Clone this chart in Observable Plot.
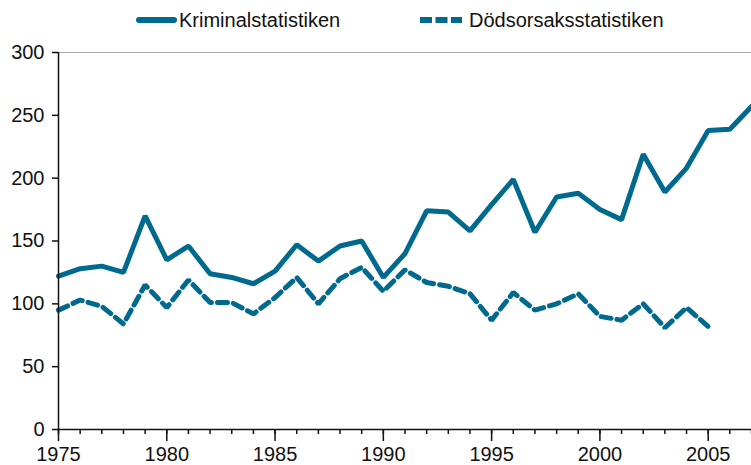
<!DOCTYPE html>
<html>
<head>
<meta charset="utf-8">
<script src="https://cdn.jsdelivr.net/npm/d3@7"></script>
<script src="https://cdn.jsdelivr.net/npm/@observablehq/plot@0.6"></script>
<style>
  html, body { margin: 0; padding: 0; background: #fff; }
  body { width: 751px; height: 465px; overflow: hidden; font-family: "Liberation Sans", Arial, sans-serif; }
  #legend { position: relative; height: 40px; width: 751px; font-size: 20px; color: #111; }
  #legend .item { position: absolute; top: 8px; line-height: 24px; }
  #legend svg { position: absolute; top: 0; }
</style>
</head>
<body>
<div id="legend"></div>
<div id="chart"></div>
<script>
const years = d3.range(1975, 2008);
const kriminal = [122, 128, 130, 125, 170, 135, 146, 124, 121, 116, 126, 147, 134, 146, 150, 121, 140, 174, 173, 158, 179, 199, 157, 185, 188, 175, 167, 219, 189, 208, 238, 239, 257];
const dodsYears = d3.range(1975, 2006);
const dodsorsak = [95, 103, 98, 84, 115, 97, 119, 101, 101, 92, 105, 121, 100, 120, 129, 110, 127, 117, 114, 108, 87, 109, 95, 100, 108, 90, 87, 100, 81, 97, 82];
const seriesNames = ["Kriminalstatistiken", "Dödsorsaksstatistiken"];
const yTicks = [0, 50, 100, 150, 200, 250, 300];
const xMajor = d3.range(1975, 2010, 5);

const color = "#006a8e";

const data = [
  ...years.map((y, i) => ({year: y, value: kriminal[i], series: seriesNames[0]})),
  ...dodsYears.map((y, i) => ({year: y, value: dodsorsak[i], series: seriesNames[1]}))
];

// Legend
const legend = document.getElementById("legend");
legend.innerHTML = `
  <svg style="left:134px" width="44" height="40"><line x1="5" x2="40" y1="20" y2="20" stroke="${color}" stroke-width="6" stroke-linecap="round"/></svg>
  <div class="item" style="left:179px">${seriesNames[0]}</div>
  <svg style="left:418px" width="48" height="40"><line x1="2" x2="44" y1="20" y2="20" stroke="${color}" stroke-width="6" stroke-dasharray="12,3.5"/></svg>
  <div class="item" style="left:469px">${seriesNames[1]}</div>
`;

const chart = Plot.plot({
  width: 751,
  height: 425,
  marginTop: 12,
  marginLeft: 58,
  marginRight: 0,
  marginBottom: 36,
  style: {fontFamily: "Liberation Sans, Arial, sans-serif", fontSize: "20px", color: "#111", background: "#fff"},
  x: {domain: [1975, 2007], type: "linear", label: null},
  y: {domain: [0, 300], label: null},
  marks: [
    Plot.ruleY([300], {stroke: "#aaa", strokeWidth: 1.2}),
    Plot.axisY({ticks: yTicks, tickSize: 6, tickPadding: 8, label: null, stroke: "#111", fill: "#111", strokeWidth: 1.5}),
    Plot.axisX({ticks: years, tickSize: 5, tickFormat: () => "", label: null, stroke: "#111", strokeWidth: 1.5}),
    Plot.axisX({ticks: xMajor, tickSize: 12, tickPadding: 5, tickFormat: "d", label: null, stroke: "#111", fill: "#111", strokeWidth: 1.5}),
    Plot.line(data.filter(d => d.series === seriesNames[1]), {x: "year", y: "value", stroke: color, strokeWidth: 5, strokeDasharray: "10,6", strokeLinejoin: "miter"}),
    Plot.line(data.filter(d => d.series === seriesNames[0]), {x: "year", y: "value", stroke: color, strokeWidth: 5, strokeLinejoin: "miter"}),
    Plot.ruleX([1975], {y1: 0, y2: 300, stroke: "#111", strokeWidth: 1.5}),
    Plot.ruleY([0], {stroke: "#111", strokeWidth: 1.5})
  ]
});
document.getElementById("chart").appendChild(chart);
</script>
</body>
</html>
